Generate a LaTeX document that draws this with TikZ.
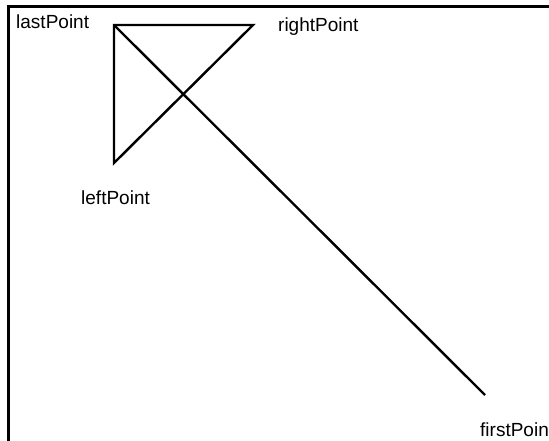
\documentclass[tikz,border=0pt]{standalone}
\usepackage{fontspec}
\setmainfont{Liberation Sans}
\begin{document}
\begin{tikzpicture}[x=1pt,y=-1pt,
  lbl/.style={anchor=base west,inner sep=0pt,font=\fontsize{19}{22}\selectfont},
  edge/.style={line width=2.4pt,line join=miter},
  frame/.style={line width=2.6pt}]
\useasboundingbox (0,0) rectangle (549,440);
\draw[frame] (8.3,6.5) rectangle (600,500);
\coordinate (last) at (114,25);
\coordinate (right) at (253,25);
\coordinate (left) at (114,163);
\coordinate (first) at (485,395);
\draw[edge] (last) -- (right) -- (left) -- cycle;
\draw[edge] (last) -- (first);
\node[lbl] (lastLbl) at (16,28) {lastPoint};
\node[lbl] (rightLbl) at (278,31) {rightPoint};
\node[lbl] (leftLbl) at (81,204) {leftPoint};
\node[lbl] (firstLbl) at (480,436) {firstPoin};
\end{tikzpicture}
\end{document}
